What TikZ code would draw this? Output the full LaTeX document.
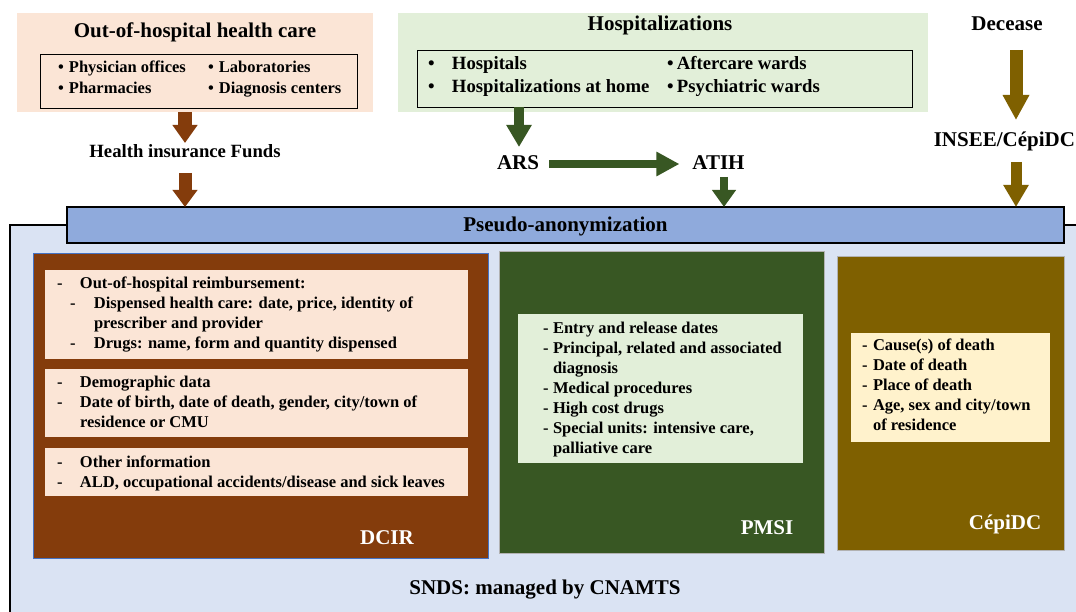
\documentclass[tikz,border=0pt]{standalone}
\usepackage{fontspec}
\setmainfont{LiberationSerif}[Extension=.ttf, UprightFont=*-Regular, BoldFont=*-Bold, ItalicFont=*-Italic, BoldItalicFont=*-BoldItalic]
\usetikzlibrary{arrows.meta}
\definecolor{peach}{HTML}{FBE5D6}
\definecolor{lgreen}{HTML}{E2EFD9}
\definecolor{barblue}{HTML}{8FAADC}
\definecolor{sndsbg}{HTML}{DAE3F3}
\definecolor{dbrown}{HTML}{843C0C}
\definecolor{dgreen}{HTML}{385723}
\definecolor{olive}{HTML}{7F6000}
\definecolor{lyellow}{HTML}{FFF2CC}
\definecolor{edgeblue}{HTML}{4472C4}
\newcommand{\Dli}[3]{\strut\hspace*{#1}\makebox[#2][l]{-}#3}
\newcommand{\Dcont}[2]{\strut\hspace*{#1}#2}
\newcommand{\Bul}[2]{\makebox[#1][l]{•}#2}
\tikzset{
  boxn/.style={anchor=north west, inner sep=0pt, outer sep=0pt},
  ttl/.style={font=\fontsize{21}{25}\selectfont\bfseries, inner sep=0pt, outer sep=0pt, text height=14pt, text depth=0pt},
  body/.style={anchor=north west, inner sep=0pt, outer sep=0pt, align=left, font=\fontsize{16.5}{20}\selectfont\bfseries},
  fat/.style n args={4}{draw=#4, line width=#1, -{Triangle[length=#2,width=#3]}}
}
\begin{document}
\begin{tikzpicture}[x=1pt,y=-1pt]
\useasboundingbox (0,0) rectangle (1076,612);
\clip (0,0) rectangle (1076,612);
\fill[white] (0,0) rectangle (1076,612);

% SNDS container
\draw[fill=sndsbg, line width=1.6pt] (10,225) rectangle (1100,640);

% Top: out-of-hospital
\node[boxn, fill=peach, minimum width=356pt, minimum height=99pt] (oh) at (17,13) {};
\node[ttl] (ohT) at (195,31) {Out-of-hospital health care};
\node[boxn, draw, line width=0.9pt, minimum width=317pt, minimum height=54pt] (ohL) at (40,54) {};
\node[body, font=\fontsize{16.5}{21}\selectfont\bfseries] (ohB) at (58,57.7)
  {\strut\Bul{11pt}{\makebox[139pt][l]{Physician offices}}\Bul{11pt}{Laboratories}\\
   \strut\Bul{11pt}{\makebox[139pt][l]{Pharmacies}}\Bul{11pt}{Diagnosis centers}};

% Top: hospitalizations
\node[boxn, fill=lgreen, minimum width=530pt, minimum height=99pt] (hs) at (398,13) {};
\node[ttl] (hsT) at (660,24) {Hospitalizations};
\node[boxn, draw, line width=0.9pt, minimum width=495pt, minimum height=57pt] (hsL) at (417,50) {};
\node[body, font=\fontsize{18.7}{23}\selectfont\bfseries] (hsB) at (428,53.1)
  {\strut\Bul{24pt}{\makebox[215pt][l]{Hospitals}}\Bul{10pt}{Aftercare wards}\\
   \strut\Bul{24pt}{\makebox[215pt][l]{Hospitalizations at home}}\Bul{10pt}{Psychiatric wards}};

% Labels
\node[font=\fontsize{18.7}{22}\selectfont\bfseries, inner sep=0pt, outer sep=0pt, text height=13pt, text depth=3pt] (funds) at (185,153) {Health insurance Funds};
\node[ttl] (ars) at (518,163) {ARS};
\node[ttl] (atih) at (718.5,163) {ATIH};
\node[ttl] (dec) at (1007,24) {Decease};
\node[ttl, anchor=east] (insee) at (1075,140) {INSEE/CépiDC};

% Pseudo-anonymization bar
\node[boxn, draw, fill=barblue, line width=1.8pt, minimum width=997pt, minimum height=36pt] (pseudo) at (67,207) {};
\node[ttl] (pseudoT) at (pseudo.center) {Pseudo-anonymization};

% Arrows
\draw[fat={14pt}{18pt}{24pt}{dbrown}, shorten >=2pt] (oh.south -| funds.north) -- (funds.north);
\draw[fat={13pt}{17pt}{24pt}{dbrown}, shorten <=12pt] (funds.south) -- (funds.south |- pseudo.north);
\draw[fat={10pt}{22pt}{24pt}{dgreen}, shorten >=9pt] ([xshift=1pt]hsL.south -| ars.north) -- ([xshift=1pt]ars.north);
\draw[fat={8pt}{23pt}{23pt}{dgreen}, shorten <=10pt, shorten >=13pt] ([yshift=-1pt]ars.east) -- ([yshift=-1pt]atih.west);
\draw[fat={8pt}{17pt}{23pt}{dgreen}, shorten <=7pt] ([xshift=5.5pt]atih.south) -- ([xshift=5.5pt]atih.south |- pseudo.north);
\draw[fat={13pt}{25pt}{25pt}{olive}, shorten <=19pt, shorten >=13pt] ([xshift=9pt]dec.south) -- ([xshift=9pt]dec.south |- insee.north);
\draw[fat={11pt}{22pt}{24pt}{olive}, shorten <=15pt] ([xshift=9pt]dec.south |- insee.south) -- ([xshift=9pt]dec.south |- pseudo.north);

% DCIR
\node[boxn, fill=dbrown, draw=edgeblue, line width=0.8pt, minimum width=455pt, minimum height=305pt] (dcir) at (33,253) {};
\node[boxn, fill=peach, minimum width=423pt, minimum height=89pt] (d1) at (45,270) {};
\node[boxn, fill=peach, minimum width=423pt, minimum height=68pt] (d2) at (45,369) {};
\node[boxn, fill=peach, minimum width=423pt, minimum height=48pt] (d3) at (45,448) {};
\node[body] (d1T) at (57,274.4)
  {\Dli{0pt}{23pt}{Out-of-hospital reimbursement:}\\
   \Dli{13pt}{24pt}{Dispensed health care: date, price, identity of}\\
   \Dcont{37pt}{prescriber and provider}\\
   \Dli{13pt}{24pt}{Drugs: name, form and quantity dispensed}};
\node[body] (d2T) at (57,373.4)
  {\Dli{0pt}{23pt}{Demographic data}\\
   \Dli{0pt}{23pt}{Date of birth, date of death, gender, city/town of}\\
   \Dcont{23pt}{residence or CMU}};
\node[body] (d3T) at (57,453.4)
  {\Dli{0pt}{23pt}{Other information}\\
   \Dli{0pt}{23pt}{ALD, occupational accidents/disease and sick leaves}};
\node[ttl, text=white] (dcirL) at (387,537) {DCIR};

% PMSI
\node[boxn, fill=dgreen, draw=gray!60, line width=0.6pt, minimum width=325pt, minimum height=302pt] (pmsi) at (499,251) {};
\node[boxn, fill=lgreen, minimum width=285pt, minimum height=149pt] (pmI) at (518,314) {};
\node[body] (pmT) at (543,319.4)
  {\Dli{0pt}{10pt}{Entry and release dates}\\
   \Dli{0pt}{10pt}{Principal, related and associated}\\
   \Dcont{10pt}{diagnosis}\\
   \Dli{0pt}{10pt}{Medical procedures}\\
   \Dli{0pt}{10pt}{High cost drugs}\\
   \Dli{0pt}{10pt}{Special units: intensive care,}\\
   \Dcont{10pt}{palliative care}};
\node[ttl, text=white] (pmsiL) at (767,527) {PMSI};

% CepiDC
\node[boxn, fill=olive, draw=gray!60, line width=0.6pt, minimum width=227pt, minimum height=294pt] (cep) at (837,256) {};
\node[boxn, fill=lyellow, minimum width=199pt, minimum height=109pt] (ceI) at (851,333) {};
\node[body] (ceT) at (862,336.4)
  {\Dli{0pt}{11pt}{Cause(s) of death}\\
   \Dli{0pt}{11pt}{Date of death}\\
   \Dli{0pt}{11pt}{Place of death}\\
   \Dli{0pt}{11pt}{Age, sex and city/town}\\
   \Dcont{11pt}{of residence}};
\node[ttl, text=white] (cepL) at (1005,522) {CépiDC};

% SNDS label
\node[ttl] (sndsL) at (545,587) {SNDS: managed by CNAMTS};
\end{tikzpicture}
\end{document}
